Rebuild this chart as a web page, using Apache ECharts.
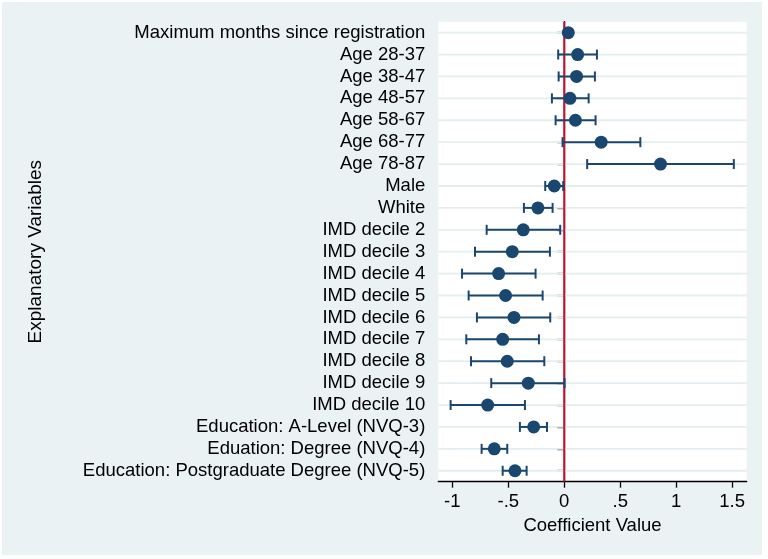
<!DOCTYPE html>
<html>
<head>
<meta charset="utf-8">
<script src="https://cdn.jsdelivr.net/npm/echarts@6/dist/echarts.min.js"></script>
<style>
  html, body { margin: 0; padding: 0; background: #ffffff; }
  #chart { position: absolute; left: 2px; top: 2px; width: 760px; height: 553px; }
</style>
</head>
<body>
<div id="chart"></div>
<script>
const categories = [
  'Maximum months since registration',
  'Age 28-37', 'Age 38-47', 'Age 48-57', 'Age 58-67', 'Age 68-77', 'Age 78-87',
  'Male', 'White',
  'IMD decile 2', 'IMD decile 3', 'IMD decile 4', 'IMD decile 5', 'IMD decile 6',
  'IMD decile 7', 'IMD decile 8', 'IMD decile 9', 'IMD decile 10',
  'Education: A-Level (NVQ-3)', 'Eduation: Degree (NVQ-4)', 'Education: Postgraduate Degree (NVQ-5)'
];
const coef   = [0.036, 0.12, 0.11, 0.051, 0.10, 0.33, 0.86, -0.089, -0.235, -0.366, -0.464, -0.586, -0.524, -0.449, -0.55, -0.509, -0.321, -0.684, -0.273, -0.625, -0.44];
const ciLow  = [0.025, -0.054, -0.05, -0.11, -0.077, -0.015, 0.205, -0.17, -0.36, -0.693, -0.797, -0.913, -0.854, -0.78, -0.875, -0.833, -0.652, -1.015, -0.396, -0.738, -0.55];
const ciHigh = [0.047, 0.292, 0.274, 0.218, 0.28, 0.68, 1.515, -0.009, -0.104, -0.036, -0.128, -0.256, -0.193, -0.125, -0.226, -0.178, 0.003, -0.351, -0.154, -0.509, -0.336];
const xTickValues = [-1, -0.5, 0, 0.5, 1, 1.5];
const xTickLabels = ['-1', '-.5', '0', '.5', '1', '1.5'];
const refLine = [0];

const navy = '#1a476f';
const font = 'Liberation Sans, Arial, Helvetica, sans-serif';

const chart = echarts.init(document.getElementById('chart'));
const ciData = categories.map((c, i) => [ciLow[i], ciHigh[i], i]);
const ptData = categories.map((c, i) => [coef[i], c]);

chart.setOption({
  backgroundColor: '#eaf2f3',
  animation: false,
  grid: { left: 436.3, top: 19.7, right: 15.3, bottom: 73.3, show: true, backgroundColor: '#ffffff', borderWidth: 0 },
  xAxis: {
    type: 'value',
    min: -1.125, max: 1.63,
    name: 'Coefficient Value',
    nameLocation: 'middle',
    nameGap: 31,
    nameTextStyle: { fontSize: 18.5, color: '#000', fontFamily: font },
    axisLine: { show: true, lineStyle: { color: '#000', width: 1.3 } },
    axisTick: { show: true, length: 6, customValues: xTickValues, lineStyle: { color: '#000', width: 1.3 } },
    axisLabel: {
      customValues: xTickValues,
      fontSize: 18.5, color: '#000', fontFamily: font, margin: 11,
      formatter: v => { const k = xTickValues.findIndex(t => Math.abs(t - v) < 1e-9); return k >= 0 ? xTickLabels[k] : ''; }
    },
    splitLine: { show: false }
  },
  yAxis: {
    type: 'category',
    data: categories,
    inverse: true,
    boundaryGap: true,
    name: 'Explanatory Variables',
    nameLocation: 'middle',
    nameRotate: 90,
    nameGap: 393,
    nameTextStyle: { fontSize: 19, color: '#000', fontFamily: font },
    axisLine: { show: true, lineStyle: { color: '#000', width: 1.3 } },
    axisTick: { show: true, alignWithLabel: true, length: 7, lineStyle: { color: '#000', width: 1.3 } },
    axisLabel: { fontSize: 18.5, color: '#000', fontFamily: font, margin: 13, interval: 0 },
    splitLine: { show: false }
  },
  series: [
    {
      // horizontal gridlines at each category
      type: 'custom',
      data: ciData,
      encode: { x: 0, y: 2 },
      z: 1,
      silent: true,
      renderItem: (params, api) => {
        const p = api.coord([0, api.value(2)]);
        const cs = params.coordSys;
        return {
          type: 'line',
          shape: { x1: cs.x, y1: p[1], x2: cs.x + cs.width, y2: p[1] },
          style: { stroke: '#e4edf0', lineWidth: 1.8 }
        };
      }
    },
    {
      // vertical reference line at zero
      type: 'custom',
      data: refLine.map(v => [v, 0]),
      encode: { x: 0, y: 1 },
      z: 2,
      silent: true,
      renderItem: (params, api) => {
        const p = api.coord([api.value(0), 0]);
        const cs = params.coordSys;
        return {
          type: 'line',
          shape: { x1: p[0], y1: cs.y, x2: p[0], y2: cs.y + cs.height },
          style: { stroke: '#c8102e', lineWidth: 2 }
        };
      }
    },
    {
      type: 'custom',
      data: ciData,
      encode: { x: [0, 1], y: 2 },
      z: 4,
      renderItem: (params, api) => {
        const idx = api.value(2);
        const p1 = api.coord([api.value(0), idx]);
        const p2 = api.coord([api.value(1), idx]);
        const h = 5;
        const style = { stroke: navy, lineWidth: 2 };
        return {
          type: 'group',
          children: [
            { type: 'line', shape: { x1: p1[0], y1: p1[1], x2: p2[0], y2: p2[1] }, style },
            { type: 'line', shape: { x1: p1[0], y1: p1[1] - h, x2: p1[0], y2: p1[1] + h }, style },
            { type: 'line', shape: { x1: p2[0], y1: p2[1] - h, x2: p2[0], y2: p2[1] + h }, style }
          ]
        };
      }
    },
    {
      type: 'scatter',
      data: ptData,
      symbol: 'circle',
      symbolSize: 13,
      itemStyle: { color: navy, opacity: 1 },
      z: 5
    }
  ]
});
</script>
</body>
</html>
